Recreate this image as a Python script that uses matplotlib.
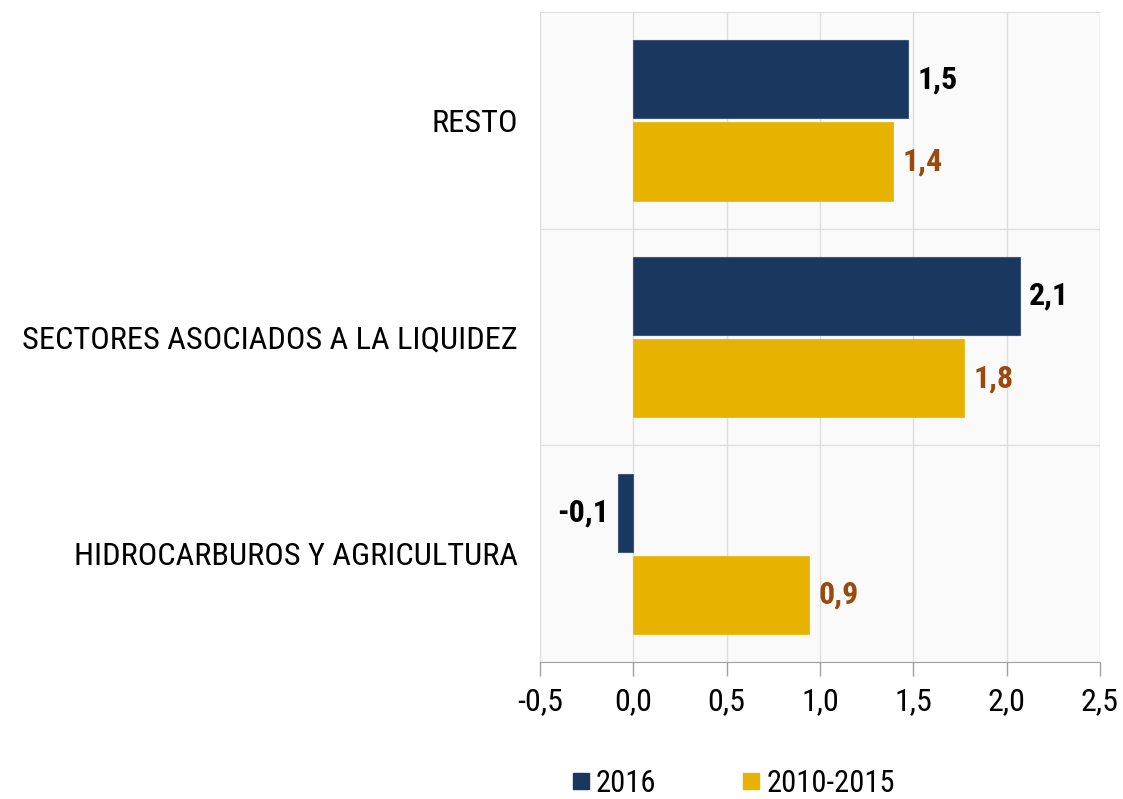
import matplotlib
matplotlib.use("Agg")
import matplotlib.pyplot as plt
from matplotlib.lines import Line2D
import numpy as np

categories = ["HIDROCARBUROS Y AGRICULTURA", "SECTORES ASOCIADOS A LA LIQUIDEZ", "RESTO"]
series_names = ["2016", "2010-2015"]
values_2016 = [-0.08, 2.07, 1.47]
values_2010_2015 = [0.94, 1.77, 1.39]
xticks = [-0.5, 0.0, 0.5, 1.0, 1.5, 2.0, 2.5]

navy = "#1A3760"
gold = "#E8B300"
brown = "#9A4A0C"

plt.rcParams["font.family"] = ["Roboto Condensed", "Liberation Sans", "DejaVu Sans"]

fig = plt.figure(figsize=(11.23, 7.99), dpi=100)
ax = fig.add_axes([540/1123, 1-662/799, 560/1123, 650/799])
ax.set_facecolor("#FAFAFA")

y = np.arange(len(categories))
h = 0.36
off = 0.19
ax.barh(y + off, values_2016, height=h, color=navy, edgecolor="#3F5878", linewidth=0.8, zorder=3)
ax.barh(y - off, values_2010_2015, height=h, color=gold, edgecolor=gold, linewidth=0.5, zorder=3)

def fmt(v):
    return f"{v:.1f}".replace(".", ",")

for vals, yy_arr, col in [(values_2016, y + off, "black"), (values_2010_2015, y - off, brown)]:
    for v, yy in zip(vals, yy_arr):
        ha = "left" if v >= 0 else "right"
        dx = 0.05 if v >= 0 else -0.05
        ax.text(v + dx, yy, fmt(v), ha=ha, va="center", fontsize=23, fontweight="bold",
                color=col, zorder=4)

ax.set_xlim(-0.5, 2.5)
ax.set_ylim(-0.5, 2.5)
ax.set_xticks(xticks)
ax.set_xticklabels([fmt(t) for t in xticks], fontsize=23)
ax.set_yticks(y)
ax.set_yticklabels(categories, fontsize=23.3)
ax.tick_params(axis="y", length=0, pad=16)
ax.tick_params(axis="x", length=10, color="#A0A0A0", width=1, pad=8)

ax.xaxis.grid(True, color="#DEDEDE", linewidth=1, zorder=0)
for yb in [0.5, 1.5]:
    ax.axhline(yb, color="#DEDEDE", linewidth=1, zorder=1)
ax.spines["right"].set_visible(False)
ax.spines["top"].set_color("#DEDEDE")
ax.spines["left"].set_color("#DEDEDE")
ax.spines["bottom"].set_color("#A0A0A0")
ax.set_axisbelow(True)

handles = [Line2D([0], [0], marker="s", linestyle="none", markersize=12, color=navy),
           Line2D([0], [0], marker="s", linestyle="none", markersize=12, color=gold)]
fig.legend(handles, series_names, loc="center", bbox_to_anchor=(730/1123, 1-783/799),
           ncol=2, frameon=False, fontsize=22, handletextpad=0.0, columnspacing=2.6,
           handlelength=1.0)

fig.savefig("out.png", dpi=100)
